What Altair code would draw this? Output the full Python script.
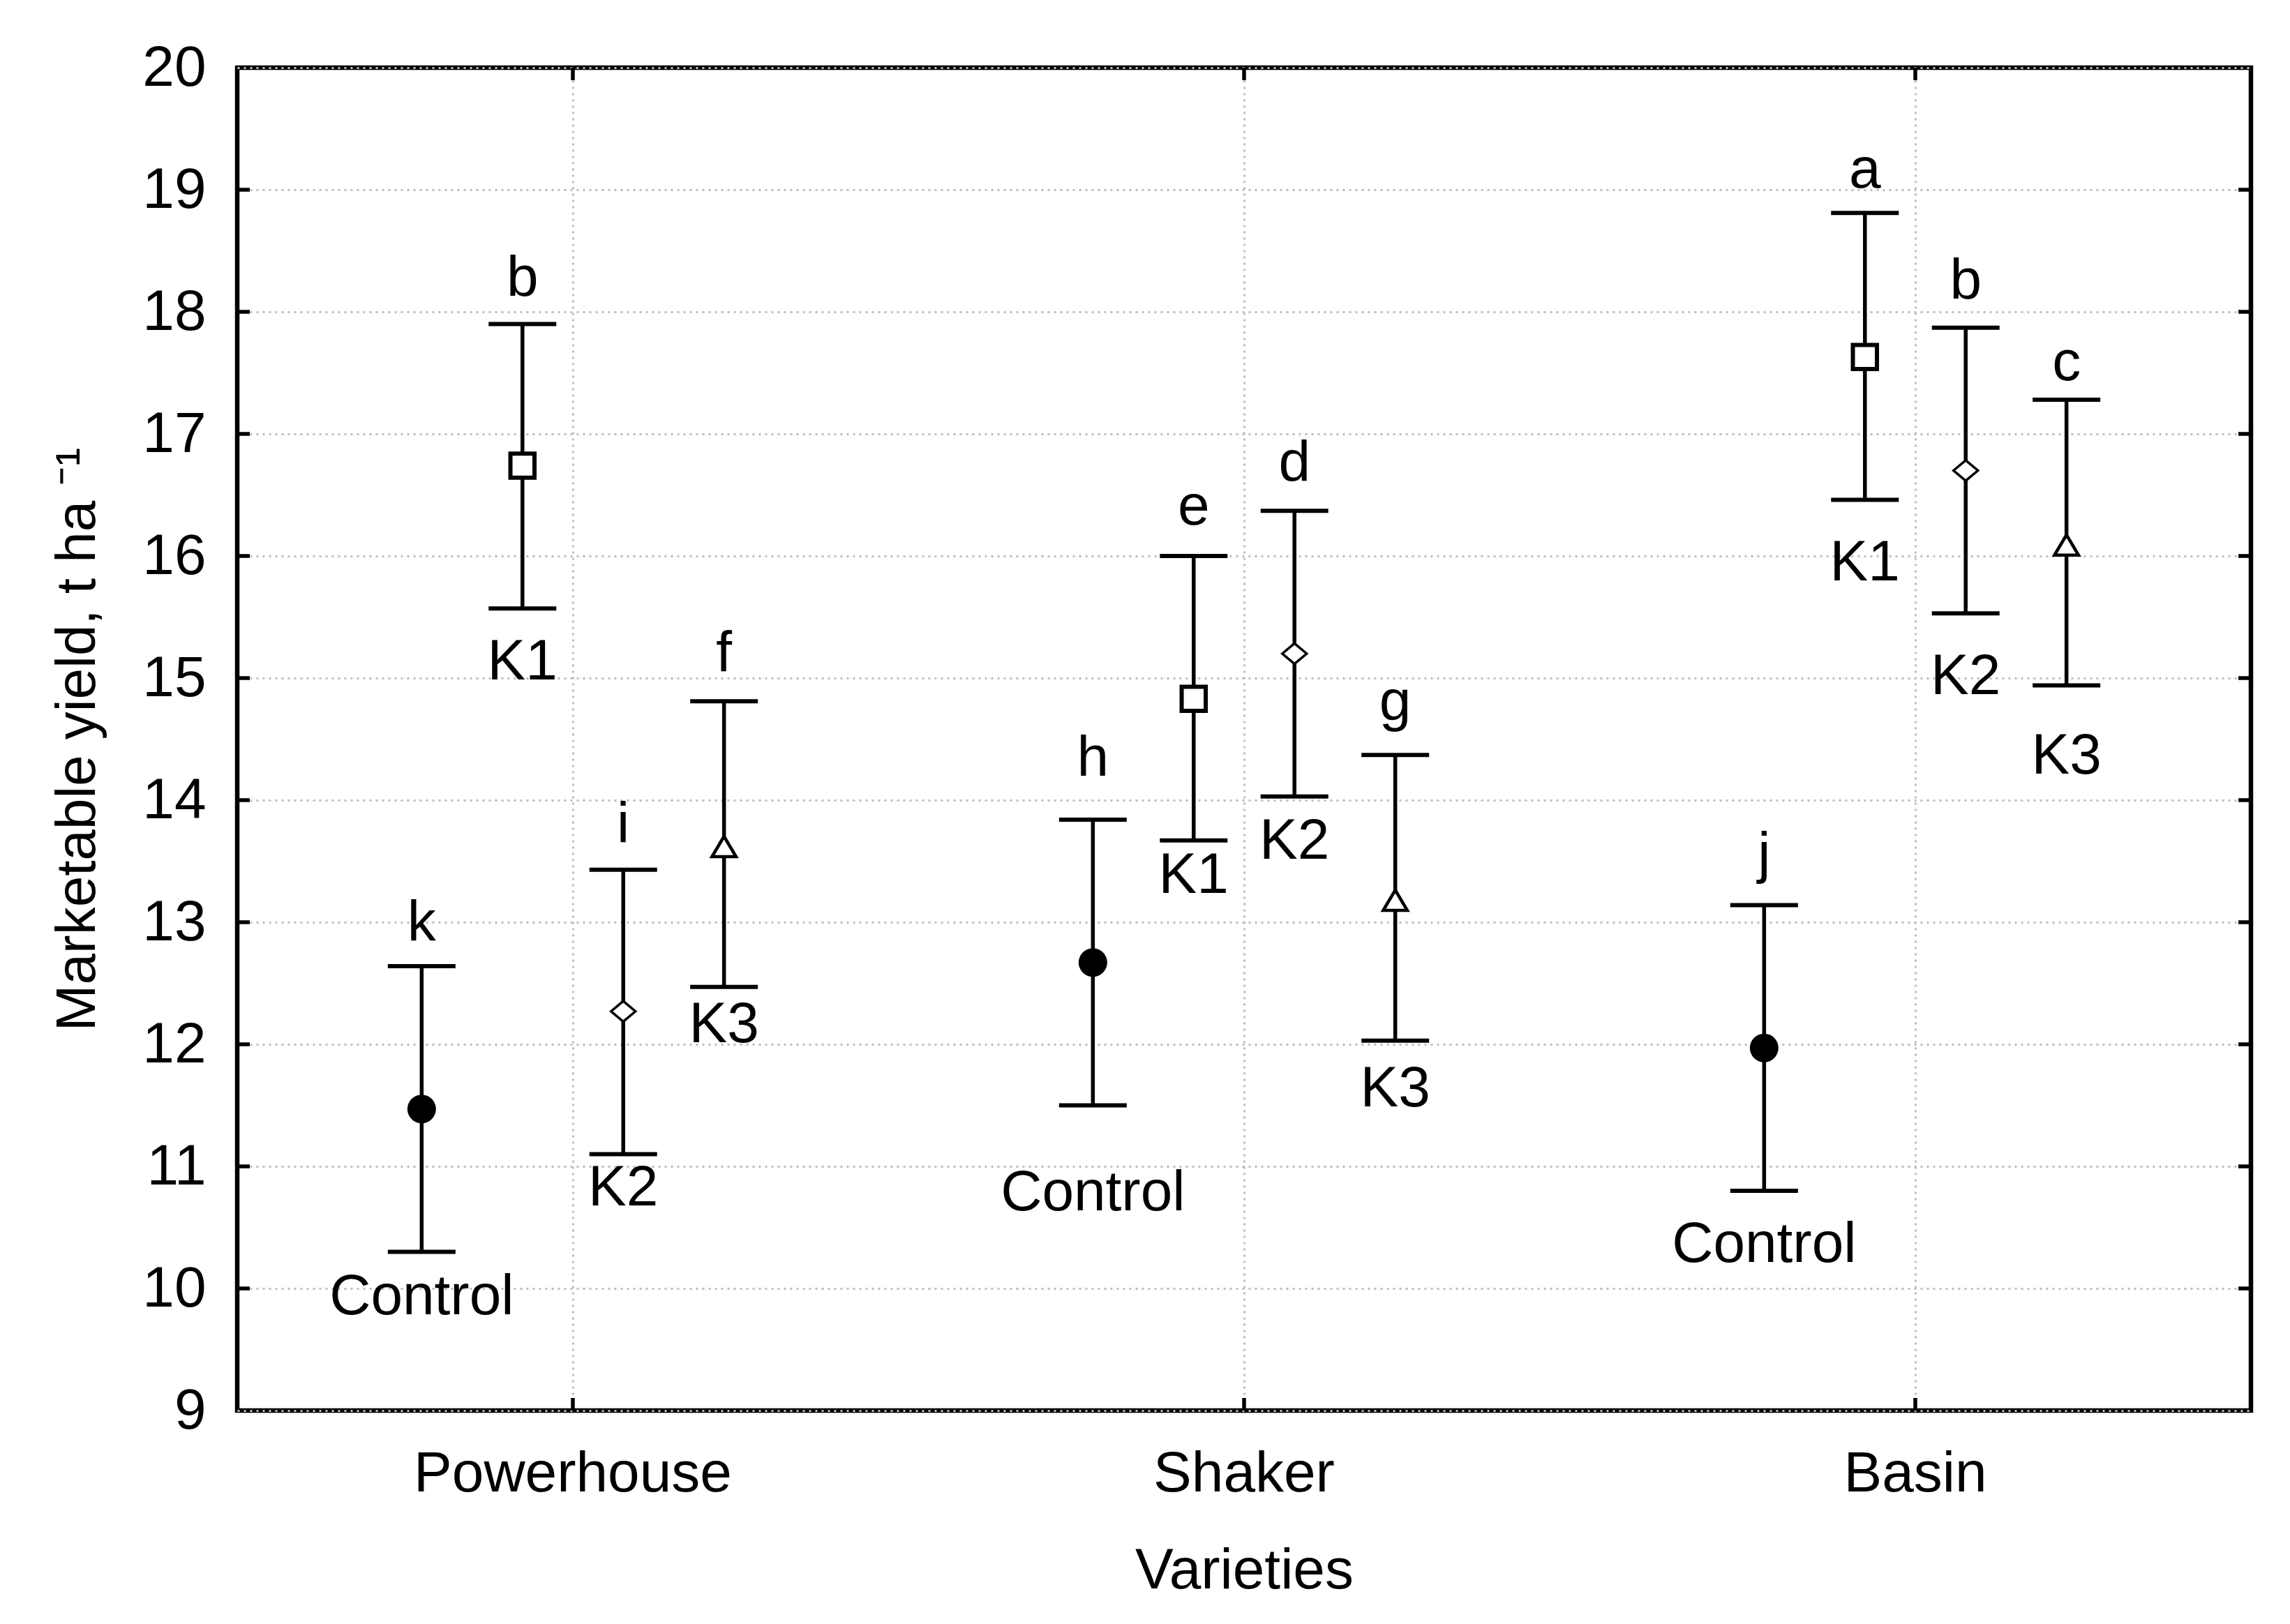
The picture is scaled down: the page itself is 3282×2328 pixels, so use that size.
import altair as alt
import pandas as pd

varieties = ["Powerhouse", "Shaker", "Basin"]
treatments = ["Control", "K1", "K2", "K3"]

mean_vals = {
    "Powerhouse": [11.47, 16.74, 12.27, 13.62],
    "Shaker": [12.67, 14.83, 15.20, 13.18],
    "Basin": [11.97, 17.63, 16.70, 16.09],
}
upper_vals = {
    "Powerhouse": [12.64, 17.90, 13.43, 14.81],
    "Shaker": [13.84, 16.00, 16.37, 14.37],
    "Basin": [13.14, 18.81, 17.87, 17.28],
}
lower_vals = {
    "Powerhouse": [10.30, 15.57, 11.10, 12.47],
    "Shaker": [11.50, 13.67, 14.03, 12.03],
    "Basin": [10.80, 16.46, 15.53, 14.94],
}
letters = {
    "Powerhouse": ["k", "b", "i", "f"],
    "Shaker": ["h", "e", "d", "g"],
    "Basin": ["j", "a", "b", "c"],
}
# baseline of each letter / treatment label, in t ha-1
letter_y = {
    "Powerhouse": [12.85, 18.13, 13.66, 15.06],
    "Shaker": [14.20, 16.26, 16.62, 14.66],
    "Basin": [13.41, 19.02, 18.11, 17.44],
}
label_y = {
    "Powerhouse": [9.79, 14.99, 10.68, 12.02],
    "Shaker": [10.64, 13.24, 13.52, 11.49],
    "Basin": [10.22, 15.80, 14.87, 14.22],
}
y_ticks = [9, 10, 11, 12, 13, 14, 15, 16, 17, 18, 19, 20]
inner_ticks = [10, 11, 12, 13, 14, 15, 16, 17, 18, 19]

rows = []
for v in varieties:
    for i, t in enumerate(treatments):
        rows.append({
            "variety": v, "treatment": t,
            "mean": mean_vals[v][i], "upper": upper_vals[v][i], "lower": lower_vals[v][i],
            "letter": letters[v][i], "letter_y": letter_y[v][i], "label_y": label_y[v][i],
        })
df = pd.DataFrame(rows)

W, H = 2886, 1925
FONT = "Liberation Sans"
FS = 82

xscale = alt.Scale(domain=varieties, paddingInner=0, paddingOuter=0)
yscale = alt.Scale(domain=[9, 20], nice=False, zero=False)
xaxis = alt.Axis(title="Varieties", bandPosition=0.5, grid=True, ticks=False, tickSize=0,
                 domain=False, labelAngle=0, labelBaseline="alphabetic", labelPadding=115,
                 labelLimit=0, labelFontSize=FS, titleFontSize=FS, titleY=254,
                 titleBaseline="alphabetic")
yaxis = alt.Axis(title="Marketable yield, t ha ⁻¹", values=y_ticks, grid=True, ticks=False,
                 tickSize=0, domain=False, labelPadding=45, labelFontSize=FS,
                 titleFontSize=80, titleAngle=270, titleX=-205, titleY=H / 2,
                 titleAlign="center", titleBaseline="alphabetic", titleLimit=0)

# empty slots on both sides of the four treatments set the spacing inside a variety
offset_domain = ["pad_l"] + treatments + ["pad_r"]


def X():
    return alt.X("variety:N", scale=xscale, axis=xaxis)


def XO():
    return alt.XOffset("treatment:N",
                       scale=alt.Scale(domain=offset_domain, paddingInner=0, paddingOuter=0.33))


def Y(field):
    return alt.Y(field, type="quantitative", scale=yscale, axis=yaxis)


base = alt.Chart(df)

whiskers = base.mark_rule(color="black", strokeWidth=5.5).encode(
    x=X(), xOffset=XO(), y=Y("lower"), y2="upper")
caps_up = base.mark_tick(color="black", size=97, thickness=6, opacity=1).encode(
    x=X(), xOffset=XO(), y=Y("upper"))
caps_lo = base.mark_tick(color="black", size=97, thickness=6, opacity=1).encode(
    x=X(), xOffset=XO(), y=Y("lower"))

diamond = "M-1,0L0,-0.84L1,0L0,0.84Z"
triangle = "M0,-0.84L1,0.84L-1,0.84Z"
marker_styles = [
    ("Control", "circle", "black", 1681, 0),
    ("K1", "square", "white", 1190, 6),
    ("K2", diamond, "white", 1225, 3.5),
    ("K3", triangle, "white", 1190, 4.5),
]
point_layers = []
for t, shp, fill, size, sw in marker_styles:
    point_layers.append(
        base.transform_filter(alt.datum.treatment == t).mark_point(
            shape=shp, filled=True, fill=fill, stroke="black", strokeWidth=sw,
            size=size, opacity=1, strokeJoin="miter",
        ).encode(x=X(), xOffset=XO(), y=Y("mean"))
    )

letter_text = base.mark_text(font=FONT, fontSize=FS, baseline="alphabetic", align="center",
                             color="black").encode(
    x=X(), xOffset=XO(), y=Y("letter_y"), text="letter:N")
label_text = base.mark_text(font=FONT, fontSize=FS, baseline="alphabetic", align="center",
                            color="black").encode(
    x=X(), xOffset=XO(), y=Y("label_y"), text="treatment:N")

# inward frame ticks
yt = alt.Chart(pd.DataFrame({"value": inner_ticks}))
left_ticks = yt.mark_rule(color="black", strokeWidth=5.5).encode(
    y=Y("value"), x=alt.value(0), x2=alt.value(18))
right_ticks = yt.mark_rule(color="black", strokeWidth=5.5).encode(
    y=Y("value"), x=alt.value(W - 18), x2=alt.value(W))
xt = alt.Chart(pd.DataFrame({"variety": varieties}))
top_ticks = xt.mark_rule(color="black", strokeWidth=5.5).encode(
    x=X(), y=alt.value(0), y2=alt.value(18))
bottom_ticks = xt.mark_rule(color="black", strokeWidth=5.5).encode(
    x=X(), y=alt.value(H - 18), y2=alt.value(H))

chart = alt.layer(
    whiskers, caps_up, caps_lo, *point_layers, letter_text, label_text,
    left_ticks, right_ticks, top_ticks, bottom_ticks,
).properties(
    width=W, height=H,
    autosize=alt.AutoSizeParams(type="none"),
    padding={"left": 332, "top": 89, "right": 40, "bottom": 300},
    background="white",
).configure_view(
    stroke="black", strokeWidth=6.5,
).configure_axis(
    labelFont=FONT, titleFont=FONT, labelColor="black", titleColor="black",
    titleFontWeight="normal", gridColor="#bdbdbd", gridWidth=3, gridDash=[3, 6],
    gridOpacity=1,
)

chart.save("out.html", embed_options={"renderer": "svg", "actions": False})
